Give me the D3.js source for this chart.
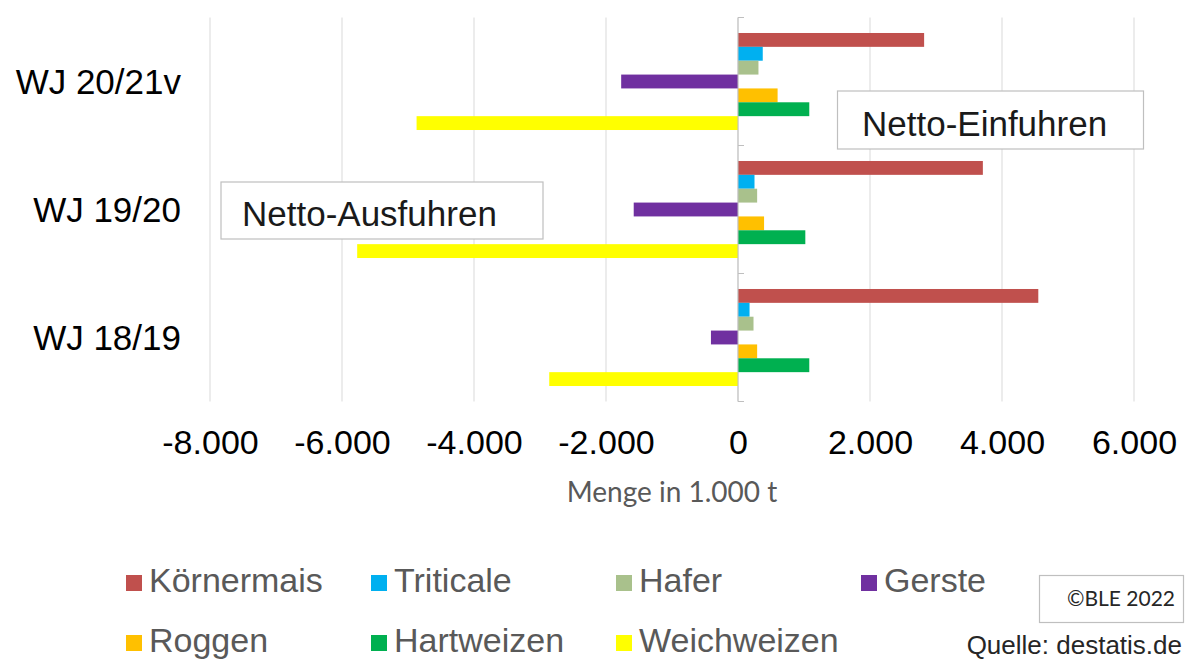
<!DOCTYPE html>
<html>
<head>
<meta charset="utf-8">
<script src="https://cdn.jsdelivr.net/npm/d3@7/dist/d3.min.js"></script>
<style>
  html, body { margin: 0; padding: 0; background: #ffffff; }
  svg { display: block; }
</style>
</head>
<body>
<svg id="chart" width="1186" height="660"></svg>
<script>
// ---- data ----
const categories = ["WJ 20/21v", "WJ 19/20", "WJ 18/19"];
const seriesNames = ["Körnermais", "Triticale", "Hafer", "Gerste", "Roggen", "Hartweizen", "Weichweizen"];
const koernermais = [2820, 3710, 4550];
const triticale   = [375, 250, 175];
const hafer       = [310, 290, 235];
const gerste      = [-1770, -1580, -410];
const roggen      = [600, 395, 290];
const hartweizen  = [1080, 1020, 1080];
const weichweizen = [-4870, -5770, -2860];
const seriesColors = ["#C0504D", "#00B0F0", "#A9C18C", "#7030A0", "#FFC000", "#00B050", "#FFFF00"];
const xTicks = [-8000, -6000, -4000, -2000, 0, 2000, 4000, 6000];
const xTitle = "Menge in 1.000 t";
const noteImports = "Netto-Einfuhren";
const noteExports = "Netto-Ausfuhren";
const copyright = "©BLE 2022";
const source = "Quelle: destatis.de";

const seriesValues = [koernermais, triticale, hafer, gerste, roggen, hartweizen, weichweizen];

// ---- setup ----
const svg = d3.select("#chart");
const ARIAL = "'Liberation Sans', Arial, sans-serif";
const CALIBRI = "Lato, 'Open Sans', sans-serif";

const de = d3.formatLocale({ decimal: ",", thousands: ".", grouping: [3], currency: ["", " €"], minus: "-" });
const fmt = de.format(",d");

const x = d3.scaleLinear().domain([-8000, 6000]).range([210, 1134]);
const y0 = d3.scaleBand().domain(categories).range([17.5, 401.5]).paddingInner(0.242).paddingOuter(0.121);
const y1 = d3.scaleBand().domain(seriesNames).range([0, y0.bandwidth()]);
const plotTop = y0.range()[0], plotBottom = y0.range()[1];

function addText(parent, str, px, py, o) {
  return parent.append("text")
    .attr("transform", `translate(${px},${py}) scale(${o.sx || 1},1)`)
    .attr("x", 0).attr("y", 0)
    .attr("text-anchor", o.anchor || "start")
    .attr("font-family", o.family || ARIAL)
    .attr("font-size", o.size)
    .attr("fill", o.fill || "#000")
    .text(str);
}

// gridlines
svg.append("g").selectAll("line").data(xTicks).join("line")
  .attr("x1", d => x(d)).attr("x2", d => x(d))
  .attr("y1", plotTop).attr("y2", plotBottom)
  .attr("stroke", "#D9D9D9").attr("stroke-width", 1);

// bars
const groups = svg.append("g").selectAll("g").data(categories).join("g")
  .attr("transform", c => `translate(0,${y0(c)})`);
groups.each(function(c, ci) {
  d3.select(this).selectAll("rect")
    .data(seriesNames.map((s, si) => ({ s, v: seriesValues[si][ci], color: seriesColors[si] })))
    .join("rect")
    .attr("x", d => x(Math.min(0, d.v)))
    .attr("width", d => Math.abs(x(d.v) - x(0)))
    .attr("y", d => y1(d.s))
    .attr("height", y1.bandwidth())
    .attr("fill", d => d.color);
});

// category axis at zero
svg.append("line")
  .attr("x1", x(0)).attr("x2", x(0)).attr("y1", plotTop).attr("y2", plotBottom)
  .attr("stroke", "#BFBFBF").attr("stroke-width", 1);
const bounds = categories.map(c => y0(c) - y0.step() * y0.paddingInner() / 2).concat([plotBottom]);
svg.append("g").selectAll("line").data(bounds).join("line")
  .attr("x1", x(0)).attr("x2", x(0) + 6)
  .attr("y1", d => d).attr("y2", d => d)
  .attr("stroke", "#BFBFBF");

// category labels
categories.forEach(c => {
  addText(svg, c, 181, y0(c) + y0.bandwidth() / 2 + 12.5, { size: 35, anchor: "end", fill: "#000" });
});

// x axis labels
const xAxis = d3.axisBottom(x).tickValues(xTicks).tickFormat(fmt).tickSize(0).tickPadding(0);
const xa = svg.append("g").call(xAxis);
xa.select(".domain").remove();
xa.selectAll(".tick text").remove();
xa.selectAll(".tick").each(function(d) {
  addText(d3.select(this), fmt(d), 0, 454, { size: 34, anchor: "middle", fill: "#000" });
});

// axis title
addText(svg, xTitle, (x.range()[0] + x.range()[1]) / 2, 502, { size: 28, anchor: "middle", family: CALIBRI, fill: "#595959" });

// annotation boxes
function noteBox(txt, bx, by, bw, bh, tx, ty) {
  svg.append("rect").attr("x", bx).attr("y", by).attr("width", bw).attr("height", bh)
    .attr("fill", "#fff").attr("stroke", "#BFBFBF").attr("stroke-width", 1.2);
  addText(svg, txt, tx, ty, { size: 35, fill: "#1a1a1a" });
}
noteBox(noteImports, 837.5, 91, 306, 58, 862, 136);
noteBox(noteExports, 221, 182, 322, 57, 242, 226);

// legend
const legend = svg.append("g");
seriesNames.forEach((s, i) => {
  const col = i % 4, row = Math.floor(i / 4);
  const lx = 126 + col * 245, base = 592 + row * 60;
  legend.append("rect").attr("x", lx).attr("y", base - 17).attr("width", 16).attr("height", 16)
    .attr("fill", seriesColors[i]);
  addText(legend, s, lx + 23, base, { size: 34, fill: "#595959" });
});

// copyright box and source
svg.append("rect").attr("x", 1039.5).attr("y", 575.5).attr("width", 144).attr("height", 47)
  .attr("fill", "#fff").attr("stroke", "#BFBFBF").attr("stroke-width", 1.2);
addText(svg, copyright, 1121, 606, { size: 21, anchor: "middle", family: CALIBRI, fill: "#262626" });
addText(svg, source, 1182, 654, { size: 26, anchor: "end", fill: "#262626" });
</script>
</body>
</html>
